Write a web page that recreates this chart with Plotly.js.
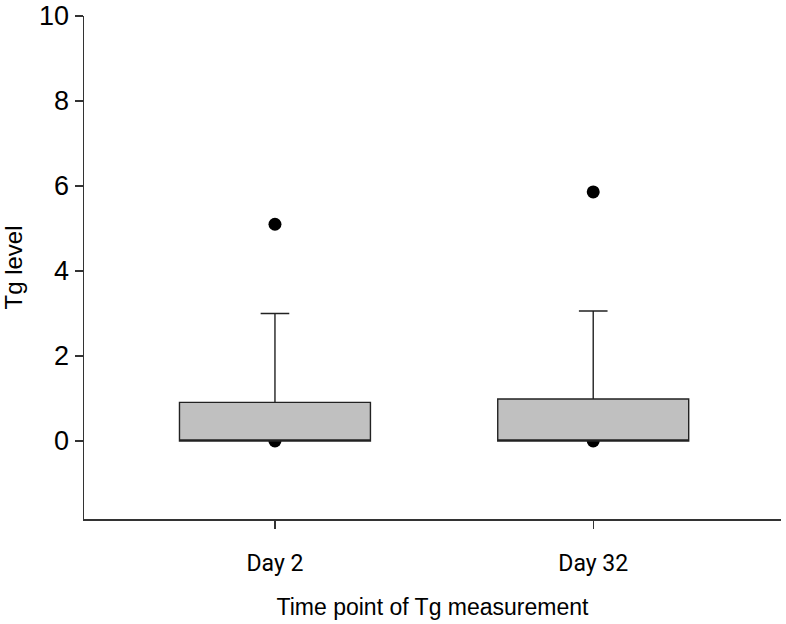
<!DOCTYPE html>
<html>
<head>
<meta charset="utf-8">
<script src="https://cdn.plot.ly/plotly-3.0.1.min.js"></script>
<style>html,body{margin:0;padding:0;background:#fff;}#chart{width:786px;height:624px;}</style>
</head>
<body>
<div id="chart"></div>
<script>
// Categories and box statistics
var categories = ["Day 2", "Day 32"];
var q1Values = [0, 0];
var medianValues = [0, 0];
var q3Values = [0.91, 0.99];
var lowerFence = [0, 0];
var upperFence = [3.0, 3.06];
// Individual plotted points (outliers / minimum markers)
var pointsDay2 = [0, 5.1];
var pointsDay32 = [0, 5.86];
var yTickVals = [0, 2, 4, 6, 8, 10];

var dotX = [], dotY = [];
pointsDay2.forEach(function(v){ dotX.push(categories[0]); dotY.push(v); });
pointsDay32.forEach(function(v){ dotX.push(categories[1]); dotY.push(v); });

var dots = {
  type: "box",
  x: dotX,
  y: dotY,
  boxpoints: "all",
  jitter: 0,
  pointpos: 0,
  width: 0.6,
  line: {width: 0, color: "rgba(0,0,0,0)"},
  fillcolor: "rgba(0,0,0,0)",
  marker: {color: "#000", size: 13},
  whiskerwidth: 0,
  hoverinfo: "skip",
  showlegend: false
};

var boxes = {
  type: "box",
  x: categories,
  q1: q1Values,
  median: medianValues,
  q3: q3Values,
  lowerfence: lowerFence,
  upperfence: upperFence,
  boxpoints: false,
  width: 0.6,
  whiskerwidth: 0.15,
  fillcolor: "#c0c0c0",
  line: {color: "#222", width: 1.4},
  showlegend: false
};

var layout = {
  width: 786, height: 624,
  margin: {l: 84, r: 5, t: 16, b: 105},
  paper_bgcolor: "#fff", plot_bgcolor: "#fff",
  boxmode: "overlay",
  showlegend: false,
  xaxis: {
    type: "category",
    range: [-0.6, 1.59],
    showline: true, linecolor: "#333", linewidth: 1.5,
    showgrid: false, zeroline: false,
    ticks: "outside", ticklen: 8, tickcolor: "#333", tickwidth: 1.3,
    ticklabelstandoff: 15,
    tickfont: {family: "Roboto", size: 23, color: "#000"},
    title: {text: "Time point of Tg measurement", font: {family: "Arial", size: 23, color: "#000"}, standoff: 23},
    automargin: false
  },
  yaxis: {
    range: [-1.835, 10],
    tickvals: yTickVals,
    showline: true, linecolor: "#333", linewidth: 1.5,
    showgrid: false, zeroline: false,
    ticks: "outside", ticklen: 8, tickcolor: "#333", tickwidth: 1.3,
    ticklabelstandoff: 0,
    tickfont: {family: "Arial", size: 27, color: "#000"},
    title: {text: "Tg level", font: {family: "Arial", size: 24, color: "#000"}, standoff: 10},
    automargin: false
  }
};

Plotly.newPlot("chart", [dots, boxes], layout, {displayModeBar: false, staticPlot: true});
</script>
</body>
</html>
